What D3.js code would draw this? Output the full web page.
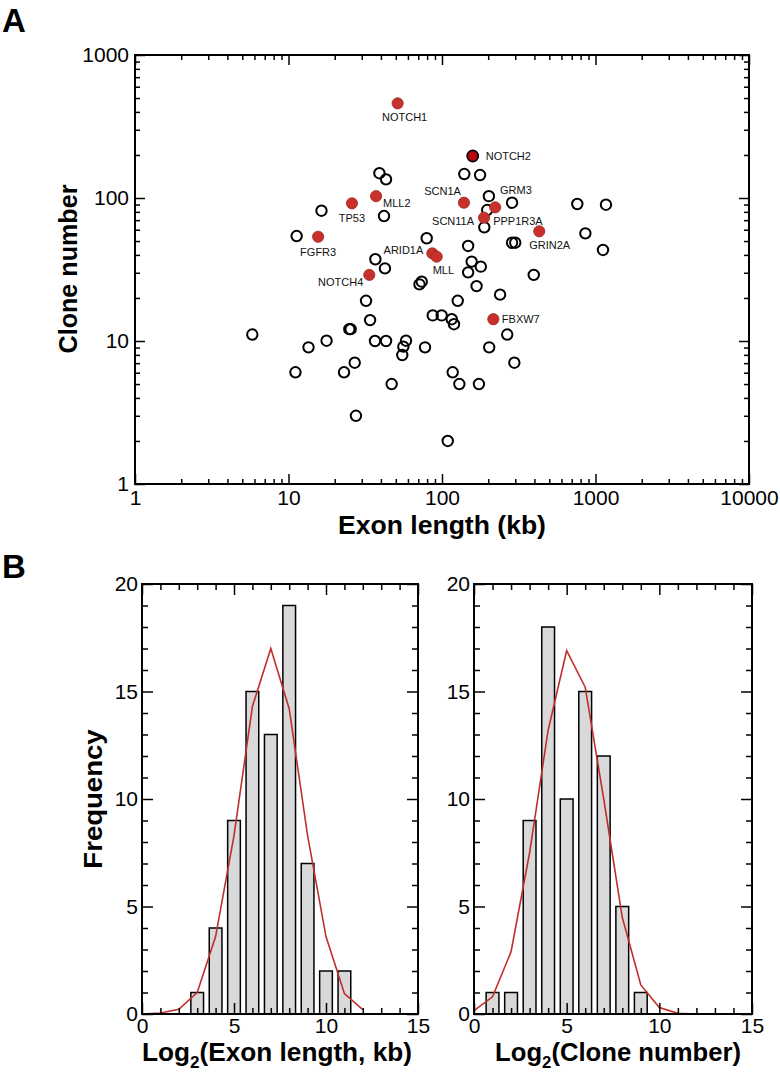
<!DOCTYPE html>
<html><head><meta charset="utf-8">
<script src="https://cdn.jsdelivr.net/npm/d3@7"></script>
<style>body{margin:0;background:#fff}svg{display:block}</style>
</head><body><svg id="c" width="780" height="1076"></svg>
<script>
// ---------- DATA ----------
// Panel A: open circles (unlabelled genes)
const openExon  = [39.1,43.2,16.4,41.9,11.3,36.8,42.5,79.5,73.8,71.3,139.7,177,202,197,188.6,761,1170,859,1119,286,300,148,156,179,148,396,168,239,32,126.6,34,87,99.5,115.7,119.7,5.81,24.9,25.4,17.7,13.5,36.6,43.2,58.3,56,55.1,77.5,266,203,296,11.1,23,27,47,117.4,129.7,174,27.5,109];
const openClone = [149,135,81.5,74.8,54.2,37.3,32.2,52.3,26.0,24.9,147,144.8,103,82.4,62.4,90.8,89.8,56.6,43.3,48.7,48.7,46.2,35.9,33.1,30.2,29.0,24.2,21.1,19.1,19.1,14.0,15.1,15.1,14.2,13.1,11.1,12.1,12.1,10.05,9.03,10,10,10.05,9.13,7.98,9.03,11.1,9.03,7.05,6.04,6.04,7.05,5.0,6.04,5.0,5.0,3.0,2.0];
// Panel A: labelled genes
const namedGenes  = ['GRM3','NOTCH1','NOTCH2','SCN1A','PPP1R3A','SCN11A','MLL2','TP53','FGFR3','ARID1A','MLL','NOTCH4','GRIN2A','FBXW7'];
const namedExon   = [286,51.4,158.5,139,222,188,37.2,25.9,15.6,86.5,92.3,33.6,430,216];
const namedClone  = [92.7,459,196.7,92.7,86,72.8,103,91.8,53.6,41,38.9,29.0,58.5,14.2];
const namedStatus = ['open','red','darkred','red','red','red','red','red','red','red','red','red','red','red'];
const xTickValues = [1,10,100,1000,10000];
const yTickValues = [1,10,100,1000];
// Panel B: histograms
const exonBins  = [3,4,5,6,7,8,9,10,11];
const exonFreq  = [1,4,9,15,13,19,7,2,2];
const exonFitX  = [0,1,2,3,4,5,6,7,8,9,10,11,12];
const exonFit   = [0,0.05,0.22,1.0,3.6,8.3,14.3,17.0,14.2,8.3,3.6,0.95,0.2];
const cloneBins = [1,2,3,4,5,6,7,8,9];
const cloneFreq = [1,1,9,18,10,15,12,5,1];
const cloneFitX = [0,1,2,3,4,5,6,7,8,9,10,11,12];
const cloneFit  = [0.16,0.8,2.9,7.5,13.2,16.9,15.2,10.0,4.5,1.35,0.3,0.03,0];
const histXTicks = [0,5,10,15];
const histYTicks = [0,5,10,15,20];

// ---------- LAYOUT / STYLE ----------
const FONT = "'Liberation Sans', Arial, Helvetica, sans-serif";
const labelPlace = { // dx, dy, anchor
  GRM3:[-12,-9,'start'], NOTCH1:[7,18,'middle'], NOTCH2:[13,4,'start'], SCN1A:[-3,-8,'end'],
  PPP1R3A:[-2,18,'start'], SCN11A:[-10,7,'end'], MLL2:[7,11,'start'], TP53:[0,19,'middle'],
  FGFR3:[0,19,'middle'], ARID1A:[-9,1,'end'], MLL:[-4,17,'start'], NOTCH4:[-6,11,'end'],
  GRIN2A:[-10,18,'start'], FBXW7:[8.5,4,'start']
};

const svg = d3.select('#c');
svg.append('rect').attr('width',780).attr('height',1076).attr('fill','#fff');

function styleAxis(g, fs){
  g.select('.domain').remove();
  g.selectAll('.tick line').attr('stroke','#000').attr('stroke-width',1.5);
  g.selectAll('.tick text').attr('font-family',FONT).attr('font-size',fs).attr('fill','#000');
}

// ---------- PANEL A ----------
const sx = d3.scaleLog().domain([1,10000]).range([135,749]);
const sy = d3.scaleLog().domain([1,1000]).range([484,55]);
const xMinor = sx.ticks().filter(d => !xTickValues.includes(d));
const yMinor = sy.ticks().filter(d => !yTickValues.includes(d));
const A = svg.append('g');

A.append('g').selectAll('circle').data(openExon.map((e,i)=>({e,c:openClone[i]})))
  .join('circle').attr('cx',d=>sx(d.e)).attr('cy',d=>sy(d.c)).attr('r',5.2)
  .attr('fill','none').attr('stroke','#000').attr('stroke-width',2);

const named = namedGenes.map((g,i)=>({g,e:namedExon[i],c:namedClone[i],s:namedStatus[i]}));
A.append('g').selectAll('circle').data(named).join('circle')
  .attr('cx',d=>sx(d.e)).attr('cy',d=>sy(d.c))
  .attr('r',d=>d.s==='open'?5.2:5.6)
  .attr('fill',d=>d.s==='open'?'none':(d.s==='darkred'?'#b4080e':'#c8312b'))
  .attr('stroke',d=>d.s==='open'?'#000':(d.s==='darkred'?'#000':'#9a2420'))
  .attr('stroke-width',d=>d.s==='open'?2:(d.s==='darkred'?1.6:0.8));
A.append('g').selectAll('text').data(named).join('text')
  .attr('x',d=>sx(d.e)+labelPlace[d.g][0]).attr('y',d=>sy(d.c)+labelPlace[d.g][1])
  .attr('text-anchor',d=>labelPlace[d.g][2])
  .attr('font-family',FONT).attr('font-size',11).attr('fill','#111').text(d=>d.g);

// axes
const fmt = d3.format('d');
[[d3.axisBottom,484,true],[d3.axisTop,55,false]].forEach(([ax,y,lab])=>{
  const g1 = A.append('g').attr('transform',`translate(0,${y})`)
    .call(ax(sx).tickValues(xTickValues).tickSize(-10).tickPadding(6).tickFormat(lab?fmt:''));
  styleAxis(g1,21);
  const g2 = A.append('g').attr('transform',`translate(0,${y})`)
    .call(ax(sx).tickValues(xMinor).tickSize(-5).tickFormat(''));
  styleAxis(g2,21);
});
[[d3.axisLeft,135,true],[d3.axisRight,749,false]].forEach(([ax,x,lab])=>{
  const g1 = A.append('g').attr('transform',`translate(${x},0)`)
    .call(ax(sy).tickValues(yTickValues).tickSize(-10).tickPadding(6).tickFormat(lab?fmt:''));
  styleAxis(g1,21);
  const g2 = A.append('g').attr('transform',`translate(${x},0)`)
    .call(ax(sy).tickValues(yMinor).tickSize(-5).tickFormat(''));
  styleAxis(g2,21);
});
A.append('rect').attr('x',135).attr('y',55).attr('width',614).attr('height',429)
  .attr('fill','none').attr('stroke','#000').attr('stroke-width',2);

// titles
function boldTitle(parent, x, y, txt, w, rot){
  const g = parent.append('g').attr('transform',`translate(${x},${y})${rot?' rotate(-90)':''}`);
  const t = g.append('text').attr('text-anchor','middle').attr('font-family',FONT)
    .attr('font-weight','bold').attr('font-size',26).text(txt);
  const bb = t.node().getBBox();
  t.attr('transform',`scale(${w/bb.width},1)`);
  return t;
}
boldTitle(A, 442, 534, 'Exon length (kb)', 208, false);
boldTitle(A, 77, 269, 'Clone number', 169, true);
svg.append('text').attr('x',2).attr('y',32).attr('font-family',FONT).attr('font-weight','bold')
  .attr('font-size',33).text('A');
svg.append('text').attr('x',2).attr('y',578).attr('font-family',FONT).attr('font-weight','bold')
  .attr('font-size',33).text('B');

// ---------- PANEL B ----------
function hist(x0, x1, bins, freq, fitX, fit, title, tw, tcx){
  const hx = d3.scaleLinear().domain([0,15]).range([x0,x1]);
  const hy = d3.scaleLinear().domain([0,20]).range([1014,584]);
  const g = svg.append('g');
  const bw = hx(0.69)-hx(0);
  g.append('g').selectAll('rect').data(bins.map((b,i)=>({b,f:freq[i]}))).join('rect')
    .attr('x',d=>hx(d.b)-bw/2).attr('y',d=>hy(d.f)).attr('width',bw).attr('height',d=>hy(0)-hy(d.f))
    .attr('fill','#d9d9d9').attr('stroke','#000').attr('stroke-width',1.5);
  g.append('path').datum(fitX.map((x,i)=>[x,fit[i]]))
    .attr('d',d3.line().x(d=>hx(d[0])).y(d=>hy(d[1])))
    .attr('fill','none').attr('stroke','#c0302b').attr('stroke-width',1.6);
  const xMin = d3.range(0,16).filter(d=>!histXTicks.includes(d));
  const yMin = d3.range(0,21).filter(d=>!histYTicks.includes(d));
  [[d3.axisBottom,1014,true],[d3.axisTop,584,false]].forEach(([ax,y,lab])=>{
    styleAxis(g.append('g').attr('transform',`translate(0,${y})`)
      .call(ax(hx).tickValues(histXTicks).tickSize(-11).tickPadding(4).tickFormat(lab?fmt:'')),21);
    styleAxis(g.append('g').attr('transform',`translate(0,${y})`)
      .call(ax(hx).tickValues(xMin).tickSize(-6).tickFormat('')),21);
  });
  [[d3.axisLeft,x0,true],[d3.axisRight,x1,false]].forEach(([ax,x,lab])=>{
    styleAxis(g.append('g').attr('transform',`translate(${x},0)`)
      .call(ax(hy).tickValues(histYTicks).tickSize(-11).tickPadding(4).tickFormat(lab?fmt:'')),21);
    styleAxis(g.append('g').attr('transform',`translate(${x},0)`)
      .call(ax(hy).tickValues(yMin).tickSize(-6).tickFormat('')),21);
  });
  g.append('rect').attr('x',x0).attr('y',584).attr('width',x1-x0).attr('height',430)
    .attr('fill','none').attr('stroke','#000').attr('stroke-width',2);
  // title with subscript
  const tg = g.append('g').attr('transform',`translate(${tcx},1061)`);
  const t = tg.append('text').attr('text-anchor','middle').attr('font-family',FONT)
    .attr('font-weight','bold').attr('font-size',26);
  t.append('tspan').text('Log');
  t.append('tspan').attr('font-size',17).attr('dy',7).text('2');
  t.append('tspan').attr('dy',-7).text(title);
  const bb = t.node().getBBox();
  t.attr('transform',`scale(${tw/bb.width},1)`);
}
hist(142, 418, exonBins, exonFreq, exonFitX, exonFit, '(Exon length, kb)', 270, 277);
hist(474, 752, cloneBins, cloneFreq, cloneFitX, cloneFit, '(Clone number)', 246, 618);
boldTitle(svg, 102, 799, 'Frequency', 140, true);
</script></body></html>
